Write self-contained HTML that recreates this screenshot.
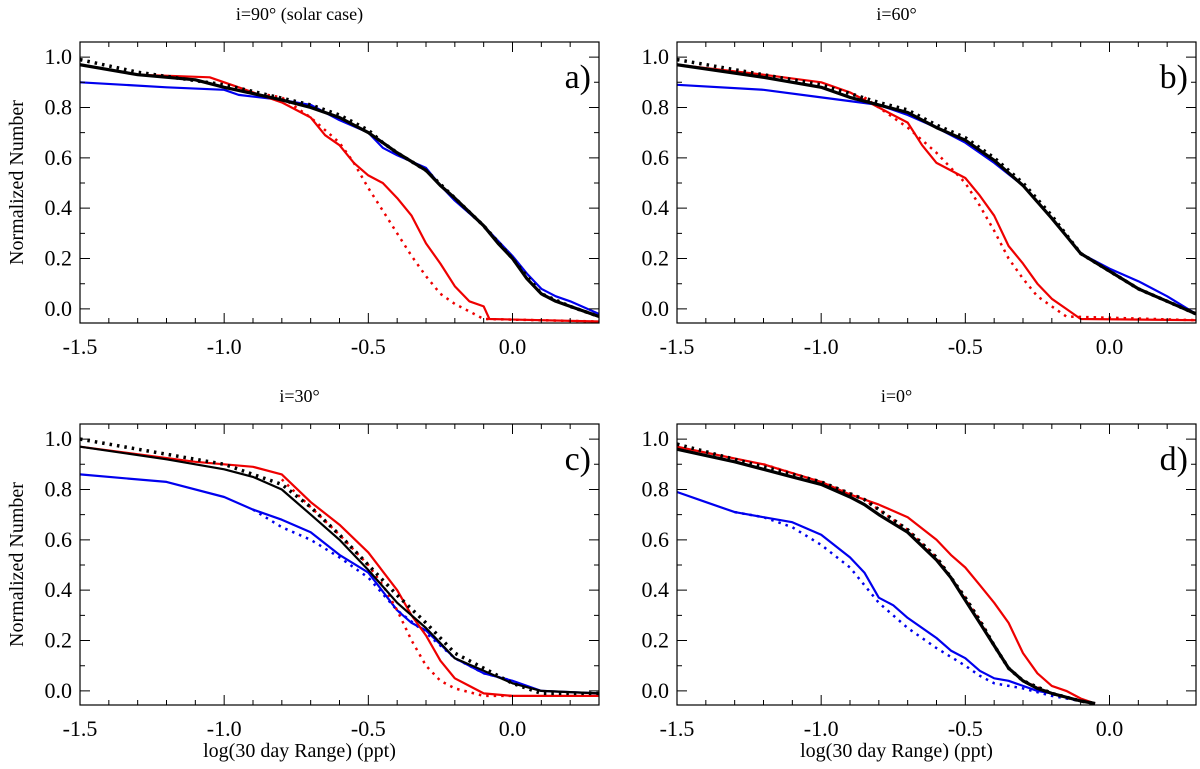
<!DOCTYPE html>
<html><head><meta charset="utf-8"><style>
html,body{margin:0;padding:0;background:#fff}
svg{display:block}
svg text{font-family:"Liberation Serif","DejaVu Serif",serif;fill:#000}
</style></head><body>
<svg id="fig" width="1200" height="769" viewBox="0 0 1200 769"></svg>
<script>
const xTicks=[-1.5,-1.0,-0.5,0.0];
const xTickLabels=["-1.5","-1.0","-0.5","0.0"];
const yTicks=[0,0.2,0.4,0.6,0.8,1.0];
const yTickLabels=["0.0","0.2","0.4","0.6","0.8","1.0"];
const panelTitles=["i=90°  (solar case)","i=60°","i=30°","i=0°"];
const panelLetters=["a)","b)","c)","d)"];
// panel a
const aBlack=[[-1.5,.97],[-1.3,.93],[-1.1,.91],[-1.0,.88],[-0.9,.855],[-0.8,.83],[-0.7,.80],[-0.6,.76],[-0.5,.70],[-0.45,.66],[-0.4,.62],[-0.3,.55],[-0.25,.49],[-0.2,.44],[-0.1,.33],[-0.05,.26],[0.0,.20],[0.05,.12],[0.1,.06],[0.15,.03],[0.2,.01],[0.3,-.03]];
const aBlackDot=[[-1.5,.99],[-1.3,.94],[-1.0,.89],[-0.7,.81],[-0.6,.77],[-0.5,.71],[-0.45,.66],[-0.4,.62],[-0.3,.55],[-0.2,.44],[-0.1,.33],[0.0,.20],[0.1,.06],[0.2,.01],[0.3,-.03]];
const aBlue=[[-1.5,.90],[-1.2,.88],[-1.0,.87],[-0.95,.85],[-0.8,.83],[-0.7,.81],[-0.6,.75],[-0.5,.70],[-0.45,.64],[-0.4,.61],[-0.3,.56],[-0.25,.49],[-0.2,.43],[-0.1,.33],[-0.05,.27],[0.0,.21],[0.05,.14],[0.1,.08],[0.15,.05],[0.2,.03],[0.3,-.02]];
const aRed=[[-1.5,.97],[-1.3,.93],[-1.05,.92],[-0.95,.88],[-0.9,.86],[-0.8,.82],[-0.7,.76],[-0.65,.69],[-0.6,.65],[-0.55,.58],[-0.5,.53],[-0.45,.50],[-0.4,.44],[-0.35,.37],[-0.3,.26],[-0.25,.18],[-0.2,.09],[-0.15,.03],[-0.1,.01],[-0.08,-.04],[0.3,-.05]];
const aRedDot=[[-0.85,.85],[-0.8,.84],[-0.7,.76],[-0.6,.66],[-0.55,.58],[-0.5,.48],[-0.45,.39],[-0.4,.30],[-0.35,.21],[-0.3,.13],[-0.25,.06],[-0.2,.02],[-0.15,-.01],[-0.1,-.04],[0.3,-.05]];
// panel b
const bBlack=[[-1.5,.97],[-1.2,.92],[-1.0,.88],[-0.9,.84],[-0.8,.81],[-0.7,.78],[-0.6,.72],[-0.5,.67],[-0.4,.59],[-0.3,.49],[-0.2,.36],[-0.15,.29],[-0.1,.22],[0.0,.15],[0.1,.08],[0.2,.03],[0.3,-.02]];
const bBlackDot=[[-1.5,.99],[-1.2,.93],[-1.0,.89],[-0.8,.82],[-0.7,.79],[-0.6,.73],[-0.5,.68],[-0.4,.60],[-0.3,.50],[-0.2,.37],[-0.1,.22],[0.0,.15],[0.1,.08],[0.2,.03],[0.3,-.02]];
const bBlue=[[-1.5,.89],[-1.2,.87],[-1.0,.84],[-0.8,.81],[-0.7,.77],[-0.6,.72],[-0.5,.66],[-0.4,.58],[-0.3,.49],[-0.2,.36],[-0.1,.22],[0.0,.16],[0.1,.11],[0.2,.05],[0.3,-.02]];
const bRed=[[-1.5,.97],[-1.2,.93],[-1.0,.90],[-0.9,.86],[-0.8,.80],[-0.7,.74],[-0.65,.65],[-0.6,.58],[-0.5,.52],[-0.45,.45],[-0.4,.37],[-0.35,.25],[-0.3,.18],[-0.25,.10],[-0.2,.04],[-0.15,0.0],[-0.1,-.04],[0.3,-.045]];
const bRedDot=[[-0.85,.84],[-0.8,.80],[-0.7,.72],[-0.6,.62],[-0.5,.50],[-0.45,.41],[-0.4,.31],[-0.35,.20],[-0.3,.12],[-0.25,.05],[-0.2,.01],[-0.15,-.03],[0.3,-.045]];
// panel c
const cBlack=[[-1.5,.97],[-1.2,.92],[-1.0,.88],[-0.9,.85],[-0.8,.80],[-0.7,.70],[-0.6,.60],[-0.5,.48],[-0.4,.35],[-0.3,.25],[-0.2,.13],[-0.1,.08],[0.0,.03],[0.1,.00],[0.3,-.01]];
const cBlackDot=[[-1.5,1.0],[-1.0,.90],[-0.8,.82],[-0.7,.73],[-0.6,.62],[-0.5,.50],[-0.4,.38],[-0.3,.27],[-0.2,.15],[-0.1,.09],[0.0,.03],[0.1,-.01],[0.3,-.01]];
const cBlue=[[-1.5,.86],[-1.2,.83],[-1.0,.77],[-0.9,.72],[-0.8,.68],[-0.7,.63],[-0.6,.54],[-0.5,.47],[-0.4,.32],[-0.35,.27],[-0.3,.24],[-0.2,.13],[-0.1,.07],[0.0,.04],[0.1,.00],[0.3,-.01]];
const cBlueDot=[[-0.9,.72],[-0.8,.65],[-0.7,.60],[-0.6,.53],[-0.5,.45],[-0.4,.32],[-0.3,.23],[-0.2,.13],[-0.1,.07],[0.0,.04]];
const cRed=[[-1.5,.97],[-1.1,.91],[-0.9,.89],[-0.8,.86],[-0.7,.75],[-0.6,.66],[-0.5,.55],[-0.4,.40],[-0.35,.30],[-0.3,.22],[-0.25,.12],[-0.2,.05],[-0.15,.02],[-0.1,-.01],[0.0,-.02],[0.3,-.02]];
const cRedDot=[[-0.8,.84],[-0.7,.73],[-0.6,.62],[-0.5,.50],[-0.45,.42],[-0.4,.32],[-0.35,.20],[-0.3,.10],[-0.25,.04],[-0.2,.01],[-0.1,-.02],[0.0,-.02]];
// panel d
const dBlack=[[-1.5,.96],[-1.3,.91],[-1.2,.88],[-1.1,.85],[-1.0,.82],[-0.9,.77],[-0.85,.74],[-0.8,.70],[-0.7,.63],[-0.6,.52],[-0.55,.45],[-0.5,.36],[-0.45,.27],[-0.4,.18],[-0.35,.09],[-0.3,.04],[-0.25,.01],[-0.2,-.01],[-0.1,-.04],[-0.05,-.05]];
const dBlackDot=[[-1.5,.98],[-1.3,.92],[-1.2,.89],[-1.0,.83],[-0.85,.76],[-0.7,.64],[-0.6,.53],[-0.5,.37],[-0.45,.28],[-0.4,.18],[-0.35,.09],[-0.3,.04],[-0.2,-.01],[-0.1,-.04],[-0.05,-.05]];
const dBlue=[[-1.5,.79],[-1.4,.75],[-1.3,.71],[-1.2,.69],[-1.1,.67],[-1.0,.62],[-0.9,.53],[-0.85,.47],[-0.8,.37],[-0.75,.34],[-0.7,.29],[-0.6,.21],[-0.55,.16],[-0.5,.13],[-0.45,.08],[-0.4,.05],[-0.35,.04],[-0.3,.02],[-0.25,.00],[-0.2,-.01],[-0.1,-.04],[-0.05,-.05]];
const dBlueDot=[[-1.3,.71],[-1.2,.69],[-1.1,.65],[-1.0,.58],[-0.9,.49],[-0.8,.35],[-0.7,.25],[-0.6,.17],[-0.5,.10],[-0.45,.06],[-0.4,.03],[-0.3,.01],[-0.2,-.02],[-0.1,-.04]];
const dRed=[[-1.5,.97],[-1.2,.90],[-1.0,.83],[-0.9,.78],[-0.8,.74],[-0.7,.69],[-0.6,.60],[-0.55,.54],[-0.5,.49],[-0.45,.42],[-0.4,.35],[-0.35,.27],[-0.3,.15],[-0.25,.07],[-0.2,.02],[-0.15,0.0],[-0.1,-.03],[-0.05,-.05]];
const dRedDot=[[-1.2,.90],[-1.0,.83],[-0.85,.76],[-0.7,.64],[-0.6,.53],[-0.5,.37],[-0.45,.28],[-0.4,.18],[-0.35,.09],[-0.3,.04],[-0.2,-.01],[-0.1,-.04]];

const NS="http://www.w3.org/2000/svg";
const svg=document.getElementById('fig');
const FONT='"Liberation Serif", "DejaVu Serif", serif';
function mk(tag,attrs,parent){const e=document.createElementNS(NS,tag);for(const k in attrs)e.setAttribute(k,attrs[k]);(parent||svg).appendChild(e);return e;}
function txt(attrs,parent,s){const t=mk('text',attrs,parent);t.style.fontFamily=FONT;t.textContent=s;return t;}
const X0=-1.5,X1=0.3,Y0=-0.056,Y1=1.06;
const panels=[
 {l:80,t:42,series:[[aBlue,'#0000ee',2.2,0],[aRedDot,'#ee0000',2.5,1],[aRed,'#ee0000',2.2,0],[aBlackDot,'#000',3.5,1],[aBlack,'#000',3.2,0]],ylab:true,xlab:false,name:'panel-a'},
 {l:677,t:42,series:[[bBlue,'#0000ee',2.2,0],[bRedDot,'#ee0000',2.5,1],[bRed,'#ee0000',2.2,0],[bBlackDot,'#000',3.5,1],[bBlack,'#000',3.2,0]],ylab:false,xlab:false,name:'panel-b'},
 {l:80,t:424,series:[[cBlueDot,'#0000ee',2.5,1],[cBlue,'#0000ee',2.2,0],[cRedDot,'#ee0000',2.5,1],[cRed,'#ee0000',2.2,0],[cBlackDot,'#000',3.5,1],[cBlack,'#000',2.2,0]],ylab:true,xlab:true,name:'panel-c'},
 {l:677,t:424,series:[[dBlueDot,'#0000ee',2.5,1],[dBlue,'#0000ee',2.2,0],[dRedDot,'#ee0000',2.5,1],[dRed,'#ee0000',2.2,0],[dBlackDot,'#000',3.5,1],[dBlack,'#000',3.2,0]],ylab:false,xlab:true,name:'panel-d'}
];
const W=519,H=281;
panels.forEach((p,i)=>{
 const g=mk('g',{});
 
 
 const sx=v=>p.l+(v-X0)/(X1-X0)*W;
 const sy=v=>p.t+(Y1-v)/(Y1-Y0)*H;
 const title=txt({x:p.l+W/2-40,y:p.t-22,'font-size':'18','text-anchor':'middle'},g,panelTitles[i]);
 
 
 const cp=mk('clipPath',{id:'cp'+i},g);mk('rect',{x:p.l,y:p.t,width:W,height:H},cp);
 const lines=mk('g',{'clip-path':'url(#cp'+i+')'},g);
 p.series.forEach(s=>{
  const d=s[0].map((pt,j)=>(j?'L':'M')+sx(pt[0]).toFixed(1)+','+sy(pt[1]).toFixed(1)).join('');
  const path=mk('path',{d:d,fill:'none',stroke:s[1],'stroke-width':s[2],'stroke-linejoin':'round','stroke-dasharray':s[3]?'2.5,5':'none'},lines);
  
  
 });
 let tk='';
 for(let k=0;k<=18;k++){const v=-1.5+k*0.1;const x=sx(v);const len=(k%5===0)?10:5;tk+=`M${x},${p.t+H}v${-len}M${x},${p.t}v${len}`;}
 for(let k=0;k<=10;k++){const v=k*0.1;const y=sy(v);const len=(k%2===0)?10:5;tk+=`M${p.l},${y}h${len}M${p.l+W},${y}h${-len}`;}
 mk('path',{d:tk,stroke:'#000','stroke-width':1,fill:'none'},g);
 const fr=mk('rect',{x:p.l,y:p.t,width:W,height:H,fill:'none',stroke:'#000','stroke-width':1.2},g);
 
 
 xTicks.forEach((v,k)=>{const t=txt({x:sx(v),y:p.t+H+31,'font-size':'22','text-anchor':'middle'},g,xTickLabels[k]);
  });
 yTicks.forEach((v,k)=>{const t=txt({x:p.l-8,y:sy(v)+7,'font-size':'22','text-anchor':'end'},g,yTickLabels[k]);
  });
 const lt=txt({x:p.l+W-8,y:p.t+46,'font-size':'34','text-anchor':'end'},g,panelLetters[i]);
 
 if(p.ylab){const t=txt({x:0,y:0,'font-size':'20','text-anchor':'middle',transform:`translate(23,${p.t+H/2}) rotate(-90)`},g,'Normalized Number');
  }
 if(p.xlab){const t=txt({x:p.l+W/2-40,y:757,'font-size':'20','text-anchor':'middle'},g,'log(30 day Range) (ppt)');
  }
});
</script>
</body></html>
